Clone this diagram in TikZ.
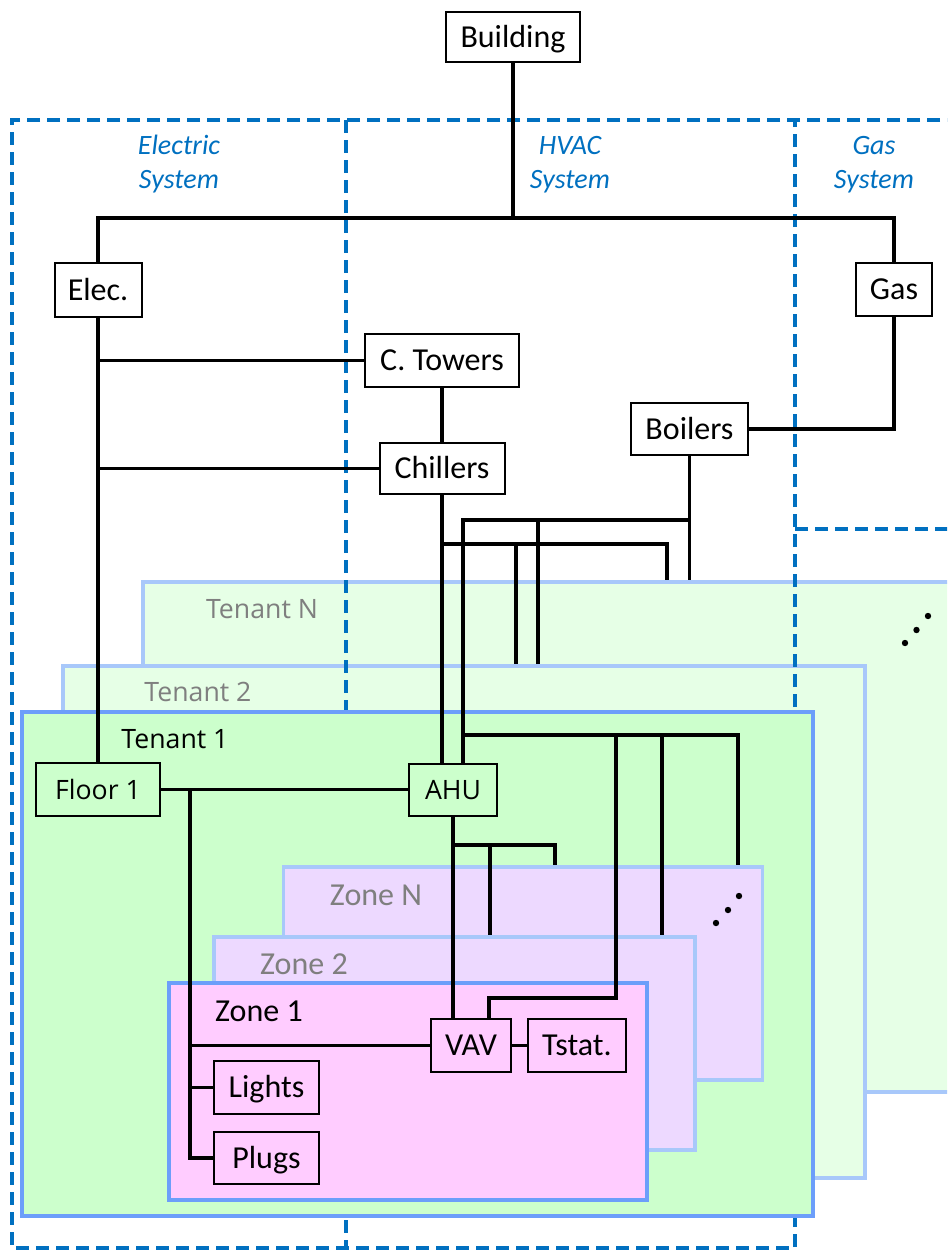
\documentclass[tikz,border=0pt]{standalone}
\usepackage{fontspec}
\setmainfont{Carlito}
\newfontfamily\segoe{Open Sans}
\definecolor{sysblue}{RGB}{0,112,192}
\definecolor{frontborder}{RGB}{108,158,250}
\definecolor{backborder}{RGB}{168,200,250}
\definecolor{tenfront}{RGB}{204,255,204}
\definecolor{tenback}{RGB}{230,255,230}
\definecolor{zonefront}{RGB}{255,204,255}
\definecolor{zoneback}{RGB}{237,217,255}
\definecolor{labelgray}{RGB}{127,127,127}
\newcommand\mkbox[6]{\node[box,minimum width=#4*0.75pt,minimum height=#5*0.75pt] (#1) at (#2,#3) {#6};}
\newcommand\mkarea[6]{\node[#6,minimum width=#4*0.75pt,minimum height=#5*0.75pt] (#1) at (#2,#3) {};}
\tikzset{
  box/.style={draw=black, line width=1.5pt, inner sep=0pt, text height=15.4pt, text depth=0pt, font=\fontsize{24}{28}\selectfont},
  segbox/.style={text height=14.3pt, font=\segoe\fontsize{20}{24}\selectfont},
  conn/.style={line width=2.3pt},
  sysdash/.style={draw=sysblue, line width=2.4pt, dash pattern=on 10pt off 5pt},
  tenbackbox/.style={draw=backborder, fill=tenback, line width=2.6pt, inner sep=0pt},
  tenfrontbox/.style={draw=frontborder, fill=tenfront, line width=2.6pt, inner sep=0pt},
  zonebackbox/.style={draw=backborder, fill=zoneback, line width=2.4pt, inner sep=0pt},
  zonefrontbox/.style={draw=frontborder, fill=zonefront, line width=2.4pt, inner sep=0pt},
  syslabel/.style={text=sysblue, inner sep=0pt, text height=13.5pt, text depth=0pt, font=\fontsize{21}{25}\selectfont\itshape},
  tenlabel/.style={inner sep=0pt, text height=14.3pt, text depth=0pt, font=\segoe\fontsize{20}{24}\selectfont},
  zonelabel/.style={inner sep=0pt, text height=15.4pt, text depth=0pt, font=\fontsize{24}{28}\selectfont},
  dot/.style={fill=black}
}
\begin{document}
\begin{tikzpicture}[x=0.75pt,y=-0.75pt]
\useasboundingbox (0,0) rectangle (947,1250);
\clip (0,0) rectangle (947,1250);

% back tenants
\mkarea{tN}{566.5}{837}{847}{510}{tenbackbox}
\mkarea{t2}{464}{922}{802}{512}{tenbackbox}

% system regions
\draw[sysdash] (960,120) -- (12,120) -- (12,1248) -- (795,1248) -- (795,120);
\draw[sysdash] (346,120) -- (346,1248);
\draw[sysdash] (795,529) -- (960,529);

% front tenant and zones
\mkarea{t1}{417.5}{964}{791}{504}{tenfrontbox}
\mkarea{zN}{523}{973.5}{479.5}{213}{zonebackbox}
\mkarea{z2}{454.5}{1043.5}{481}{213}{zonebackbox}
\mkarea{z1}{408}{1091.5}{478}{217}{zonefrontbox}

% labels
\node[syslabel] (le1) at (179,145) {Electric};
\node[syslabel] (le2) at (179,179) {System};
\node[syslabel] (lh1) at (570,145) {HVAC};
\node[syslabel] (lh2) at (570,179) {System};
\node[syslabel] (lg1) at (874,145) {Gas};
\node[syslabel] (lg2) at (874,179) {System};
\node[tenlabel, text=labelgray] (ltN) at (262,609) {Tenant N};
\node[tenlabel, text=labelgray] (lt2) at (198,692) {Tenant 2};
\node[tenlabel] (lt1) at (175,739) {Tenant 1};
\node[zonelabel, text=labelgray] (lzN) at (376,895) {Zone N};
\node[zonelabel, text=labelgray] (lz2) at (304,964) {Zone 2};
\node[zonelabel] (lz1) at (259,1011) {Zone 1};

% ellipsis dots
\fill[dot] (905,643) circle (2.4pt);
\fill[dot] (916.5,630) circle (2.4pt);
\fill[dot] (928,616) circle (2.4pt);
\fill[dot] (716,923) circle (2.4pt);
\fill[dot] (728,910) circle (2.4pt);
\fill[dot] (739,896) circle (2.4pt);

% boxes
\mkbox{build}{513}{37}{134}{50}{Building}
\mkbox{elec}{98}{290}{87}{54}{Elec.}
\mkbox{gas}{894}{289.5}{76}{53}{Gas}
\mkbox{ctow}{442}{360.5}{154}{53}{C. Towers}
\mkbox{chil}{442}{468.5}{125}{51}{Chillers}
\mkbox{boil}{689.5}{429}{117}{52}{Boilers}
\node[box, segbox, minimum width=124*0.75pt, minimum height=53*0.75pt] (floor) at (98,789.5) {Floor 1};
\node[box, segbox, minimum width=88*0.75pt, minimum height=52*0.75pt] (ahu) at (453,789.5) {AHU};
\mkbox{vav}{471}{1045.5}{80}{53}{VAV}
\mkbox{tstat}{577}{1045.5}{98}{53}{Tstat.}
\mkbox{lights}{266.5}{1087.5}{105}{53}{Lights}
\mkbox{plugs}{266.5}{1158}{105}{52}{Plugs}

% junctions
\coordinate (busY) at (0,218);
\coordinate (jb1) at (463,520);
\coordinate (jb2) at (538,520);
\coordinate (jc1) at (516,544);
\coordinate (jc2) at (667,544);
\coordinate (jt0) at (463,735);
\coordinate (jt1) at (616,735);
\coordinate (jt2) at (662,735);
\coordinate (jt3) at (738,735);
\coordinate (jt1b) at (616,998);
\coordinate (jv) at (489,998);
\coordinate (jf) at (190,789.5);
\coordinate (ja1) at (490,845);
\coordinate (ja2) at (555,845);

% connectors
\draw[conn] (build.south) -- (build.south |- busY);
\draw[conn] (elec.north) -- (elec.north |- busY) -- (gas.north |- busY) -- (gas.north);
\draw[conn] (elec.south) -- (floor.north);
\draw[conn] (elec.south |- ctow.west) -- (ctow.west);
\draw[conn] (elec.south |- chil.west) -- (chil.west);
\draw[conn] (ctow.south) -- (chil.north);
\draw[conn] (gas.south) |- (boil.east);
\draw[conn] (chil.south) -- (chil.south |- ahu.north);
\draw[conn] (boil.south) -- (boil.south |- tN.north);
\draw[conn] (boil.south |- jb1) -- (jb1) -- (jb1 |- ahu.north);
\draw[conn] (jb2) -- (jb2 |- t2.north);
\draw[conn] (chil.south |- jc1) -- (jc2) -- (jc2 |- tN.north);
\draw[conn] (jc1) -- (jc1 |- t2.north);
\draw[conn] (jt0) -- (jt3) -- (jt3 |- zN.north);
\draw[conn] (jt2) -- (jt2 |- z2.north);
\draw[conn] (jt1) -- (jt1b) -- (jv) -- (jv |- vav.north);
\draw[conn] (floor.east) -- (ahu.west);
\draw[conn] (jf) |- (plugs.west);
\draw[conn] (jf |- vav.west) -- (vav.west);
\draw[conn] (jf |- lights.west) -- (lights.west);
\draw[conn] (ahu.south) -- (ahu.south |- vav.north);
\draw[conn] (ahu.south |- ja1) -- (ja2) -- (ja2 |- zN.north);
\draw[conn] (ja1) -- (ja1 |- z2.north);
\draw[conn] (vav.east) -- (tstat.west);
\end{tikzpicture}
\end{document}
